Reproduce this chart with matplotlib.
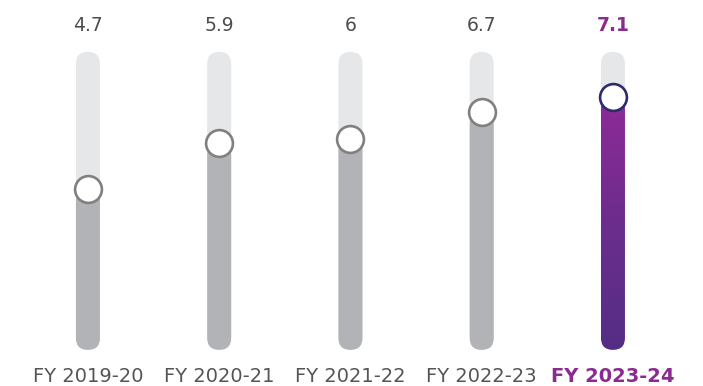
import numpy as np
import matplotlib
matplotlib.use("Agg")
import matplotlib.pyplot as plt
from matplotlib.patches import FancyBboxPatch
from matplotlib.colors import LinearSegmentedColormap

# ── Data ─────────────────────────────────────────────────────────────────────
years  = ["FY 2019-20", "FY 2020-21", "FY 2021-22", "FY 2022-23", "FY 2023-24"]
values = [4.7, 5.9, 6.0, 6.7, 7.1]
labels = ["4.7", "5.9", "6", "6.7", "7.1"]

# ── Style ────────────────────────────────────────────────────────────────────
TRACK = "#e6e7e8"
FILL = "#b1b3b6"
RING = "#808080"
NAVY = "#2d2a6e"
PURPLE = "#8b2a8f"
TEXT = "#4d4d4d"
TRACK_LO, TRACK_HI = 0.5, 8.28   # slider scale ends
HALF_W = 0.0914                  # half bar width in x units
ASPECT = 131.25 / 38.3           # y units per x unit on screen

plt.rcParams["font.family"] = ["DejaVu Sans"]

fig = plt.figure(figsize=(7.03, 3.86), dpi=100)
ax = fig.add_axes([0, 0, 1, 1])
ax.set_xlim(-0.670, 4.686)
ax.set_ylim(-0.444, 9.635)
ax.axis("off")

grad = LinearSegmentedColormap.from_list("pg", ["#542d84", "#6c2d8c", "#8e2a98"])

def pill(x, y0, y1, color, z):
    p = FancyBboxPatch((x - HALF_W, y0), 2 * HALF_W, y1 - y0,
                       boxstyle=f"round,pad=0,rounding_size={HALF_W}",
                       mutation_aspect=ASPECT, fc=color, ec="none", zorder=z)
    ax.add_patch(p)
    return p

n = len(years)
for i, (yr, v, lab) in enumerate(zip(years, values, labels)):
    last = i == n - 1
    pill(i, TRACK_LO, TRACK_HI, TRACK, 1)
    if last:
        clip = pill(i, TRACK_LO, v, "none", 2)
        img = ax.imshow(np.linspace(0, 1, 256).reshape(-1, 1), cmap=grad,
                        origin="lower", aspect="auto",
                        extent=(i - HALF_W, i + HALF_W, TRACK_LO, v), zorder=2)
        img.set_clip_path(clip)
    else:
        pill(i, TRACK_LO, v, FILL, 2)
    ax.plot(i, v, "o", ms=19.3, mfc="white", mec=NAVY if last else RING,
            mew=1.9, zorder=3)
    col = PURPLE if last else TEXT
    wt = "bold" if last else "normal"
    ax.text(i, 8.98, lab, ha="center", va="center", fontsize=13.5,
            color=col, fontweight=wt)
    ax.text(i, -0.2, yr, ha="center", va="center", fontsize=14,
            color=PURPLE if last else "#555555", fontweight=wt)

fig.savefig("out.png", dpi=100, facecolor="white")
